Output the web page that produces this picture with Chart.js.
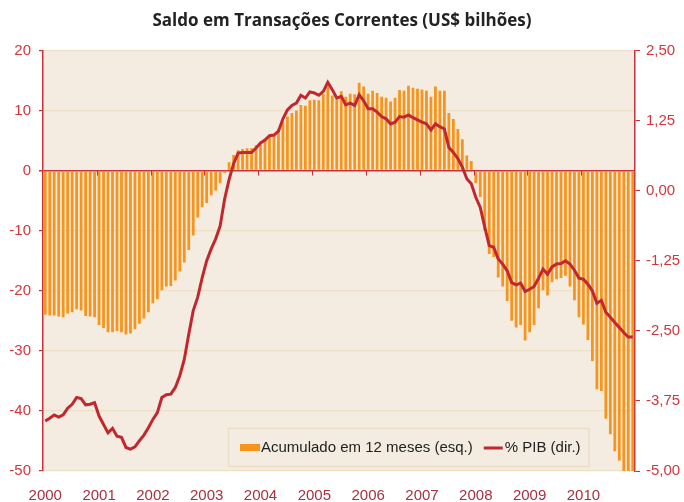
<!DOCTYPE html>
<html>
<head>
<meta charset="utf-8">
<script src="https://cdn.jsdelivr.net/npm/chart.js@4/dist/chart.umd.min.js"></script>
<style>
  body { margin: 0; background: #fff; }
  #grafico { display: block; }
</style>
</head>
<body>
<canvas id="grafico" width="684" height="502"></canvas>
<script>
// anos do eixo x (um rótulo por janeiro)
const anos = ["2000", "2001", "2002", "2003", "2004", "2005", "2006", "2007", "2008", "2009", "2010"];
const meses = ["01", "02", "03", "04", "05", "06", "07", "08", "09", "10", "11", "12"];

// saldo acumulado em 12 meses, US$ bilhões (eixo esq.)
const acumulado12m = [
  -24.0, -24.1, -24.1, -24.3, -24.4, -23.8, -23.6, -23.1, -23.3, -24.2, -24.3, -24.4, // 2000
  -25.7, -26.2, -26.9, -26.9, -26.7, -26.9, -27.3, -27.1, -26.4, -25.5, -24.6, -23.6, // 2001
  -22.1, -21.4, -19.9, -19.3, -19.2, -18.3, -16.8, -15.3, -13.2, -10.8, -7.8, -6.1,    // 2002
  -5.4, -4.1, -3.3, -2.1, -0.4, 1.4, 2.6, 3.4, 3.6, 3.7, 3.7, 4.2,                      // 2003
  4.4, 5.3, 5.6, 6.0, 6.9, 8.1, 9.0, 9.6, 10.0, 10.9, 10.8, 11.7,                       // 2004
  11.8, 11.7, 12.8, 14.0, 12.5, 11.8, 13.2, 12.3, 12.8, 12.7, 14.6, 14.0,               // 2005
  12.8, 13.3, 12.9, 12.3, 12.1, 11.5, 12.1, 13.4, 13.3, 14.1, 13.8, 13.6,               // 2006
  13.5, 13.3, 12.3, 14.0, 13.3, 13.3, 9.6, 8.6, 6.9, 5.2, 2.5, 1.6,                     // 2007
  -2.1, -4.4, -10.0, -13.9, -14.4, -17.8, -19.3, -21.7, -25.0, -26.1, -25.7, -28.3,     // 2008
  -26.9, -25.7, -22.9, -19.9, -20.8, -18.6, -18.1, -17.9, -17.5, -19.3, -21.6, -24.4,   // 2009
  -25.6, -28.2, -31.7, -36.4, -36.7, -41.3, -43.9, -46.7, -48.3, -50.0, -50.0, -50.0    // 2010
];

// saldo em % do PIB (eixo dir.)
const pctPib = [
  -4.11, -4.06, -4.00, -4.04, -4.00, -3.88, -3.81, -3.69, -3.71, -3.82, -3.81, -3.78,
  -4.02, -4.17, -4.32, -4.24, -4.38, -4.40, -4.58, -4.61, -4.57, -4.46, -4.36, -4.23,
  -4.08, -3.96, -3.69, -3.64, -3.63, -3.51, -3.30, -3.01, -2.56, -2.14, -1.90, -1.55,
  -1.25, -1.04, -0.86, -0.63, -0.15, 0.20, 0.48, 0.67, 0.68, 0.68, 0.68, 0.76,
  0.85, 0.90, 0.98, 0.99, 1.06, 1.28, 1.44, 1.52, 1.56, 1.70, 1.65, 1.76,
  1.74, 1.70, 1.77, 1.93, 1.80, 1.65, 1.68, 1.53, 1.56, 1.52, 1.71, 1.60,
  1.46, 1.46, 1.40, 1.32, 1.28, 1.19, 1.22, 1.32, 1.31, 1.35, 1.30, 1.26,
  1.22, 1.19, 1.08, 1.19, 1.14, 1.10, 0.77, 0.68, 0.57, 0.42, 0.21, 0.12,
  -0.12, -0.30, -0.65, -0.98, -1.01, -1.22, -1.31, -1.43, -1.64, -1.68, -1.65, -1.80,
  -1.76, -1.71, -1.56, -1.40, -1.49, -1.36, -1.31, -1.30, -1.25, -1.31, -1.42, -1.56,
  -1.58, -1.67, -1.79, -2.01, -1.96, -2.17, -2.26, -2.35, -2.44, -2.53, -2.61, -2.61
];

const rotulos = [];
anos.forEach(a => meses.forEach(m => rotulos.push(a + "-" + m)));

const vermelho = "#c8313c";
const laranja = "#f7941d";
const fonte = "'Liberation Sans', Arial, sans-serif";

// fundo bege da área do gráfico
const fundo = {
  id: "fundo",
  beforeDraw(chart) {
    const { ctx, chartArea: a } = chart;
    ctx.save();
    ctx.fillStyle = "#f4ece0";
    ctx.fillRect(a.left, a.top, a.right - a.left, a.bottom - a.top);
    ctx.restore();
  }
};

// tracinhos de ano sobre a linha do zero
const marcasAno = {
  id: "marcasAno",
  afterDatasetsDraw(chart) {
    const { ctx, scales } = chart;
    const x = scales.x, y0 = scales.y.getPixelForValue(0);
    ctx.save();
    ctx.strokeStyle = vermelho;
    ctx.lineWidth = 1;
    for (let i = 12; i < rotulos.length; i += 12) {
      const px = Math.round((x.getPixelForTick(i) + x.getPixelForTick(i - 1)) / 2) + 0.5;
      ctx.beginPath();
      ctx.moveTo(px, y0);
      ctx.lineTo(px, y0 + 5);
      ctx.stroke();
    }
    ctx.restore();
  }
};

// legenda dentro da área, canto inferior direito
const legendaCaixa = {
  id: "legendaCaixa",
  afterDraw(chart) {
    const { ctx, chartArea: a } = chart;
    const ds = chart.data.datasets;
    ctx.save();
    ctx.font = "15px " + fonte;
    const w1 = ctx.measureText(ds[0].label).width;
    const w2 = ctx.measureText(ds[1].label).width;
    const esq = a.left + 185, topo = a.bottom - 43, alt = 38;
    const larg = 12 + 20 + 1 + w1 + 11 + 19 + 2 + w2 + 8;
    ctx.fillStyle = "#f4ece0";
    ctx.fillRect(esq, topo, larg, alt);
    ctx.strokeStyle = "#ebdec4";
    ctx.lineWidth = 1.5;
    ctx.strokeRect(esq + 0.5, topo + 0.5, larg, alt);
    const cy = topo + alt / 2 + 1;
    let px = esq + 12;
    ctx.fillStyle = laranja;
    ctx.fillRect(px, cy - 4, 20, 7);
    px += 21;
    ctx.fillStyle = "#222";
    ctx.textBaseline = "middle";
    ctx.fillText(ds[0].label, px, cy);
    px += w1 + 11;
    ctx.strokeStyle = ds[1].borderColor;
    ctx.lineWidth = 3;
    ctx.beginPath();
    ctx.moveTo(px, cy);
    ctx.lineTo(px + 19, cy);
    ctx.stroke();
    px += 21;
    ctx.fillText(ds[1].label, px, cy);
    ctx.restore();
  }
};

new Chart(document.getElementById("grafico"), {
  data: {
    labels: rotulos,
    datasets: [
      {
        type: "bar",
        label: "Acumulado em 12 meses (esq.)",
        data: acumulado12m,
        yAxisID: "y",
        backgroundColor: laranja,
        barPercentage: 0.62,
        categoryPercentage: 1,
        order: 2
      },
      {
        type: "line",
        label: "% PIB (dir.)",
        data: pctPib,
        yAxisID: "y1",
        borderColor: "#c1272d",
        borderWidth: 3,
        pointRadius: 0,
        tension: 0,
        order: 1
      }
    ]
  },
  options: {
    responsive: false,
    animation: false,
    layout: { padding: 0 },
    scales: {
      x: {
        type: "category",
        offset: true,
        grid: { display: false, drawTicks: false },
        border: { display: false },
        ticks: {
          autoSkip: false,
          maxRotation: 0,
          minRotation: 0,
          padding: 16,
          color: "#a8303f",
          font: { family: fonte, size: 15 },
          callback: (v, i) => (i % 12 === 0 ? rotulos[i].slice(0, 4) : "")
        },
        afterFit: s => { s.height = 31; }
      },
      y: {
        position: "left",
        min: -50,
        max: 20,
        ticks: {
          stepSize: 10,
          padding: 8,
          color: "#d0363f",
          font: { family: fonte, size: 15 }
        },
        grid: {
          color: c => (c.tick && c.tick.value === 0 ? vermelho : "#ecdfc6"),
          lineWidth: c => (c.tick && c.tick.value === 0 ? 1.5 : 1.2),
          tickColor: vermelho,
          tickLength: 4
        },
        border: { color: vermelho, width: 1.5 },
        afterFit: s => { s.width = 43; }
      },
      y1: {
        position: "right",
        min: -5,
        max: 2.5,
        ticks: {
          stepSize: 1.25,
          padding: 6,
          color: "#d0363f",
          font: { family: fonte, size: 15 },
          callback: v => v.toFixed(2).replace(".", ",")
        },
        grid: { drawOnChartArea: false, tickColor: vermelho, tickLength: 5 },
        border: { color: vermelho, width: 1.5 },
        afterFit: s => { s.width = 49; }
      }
    },
    plugins: {
      legend: { display: false },
      tooltip: { enabled: false },
      title: {
        display: true,
        text: "Saldo em Transações Correntes (US$ bilhões)",
        color: "#222",
        font: { family: "'Open Sans', sans-serif", size: 17, weight: "bold" },
        padding: { top: 11, bottom: 19 }
      }
    }
  },
  plugins: [fundo, marcasAno, legendaCaixa]
});
</script>
</body>
</html>
